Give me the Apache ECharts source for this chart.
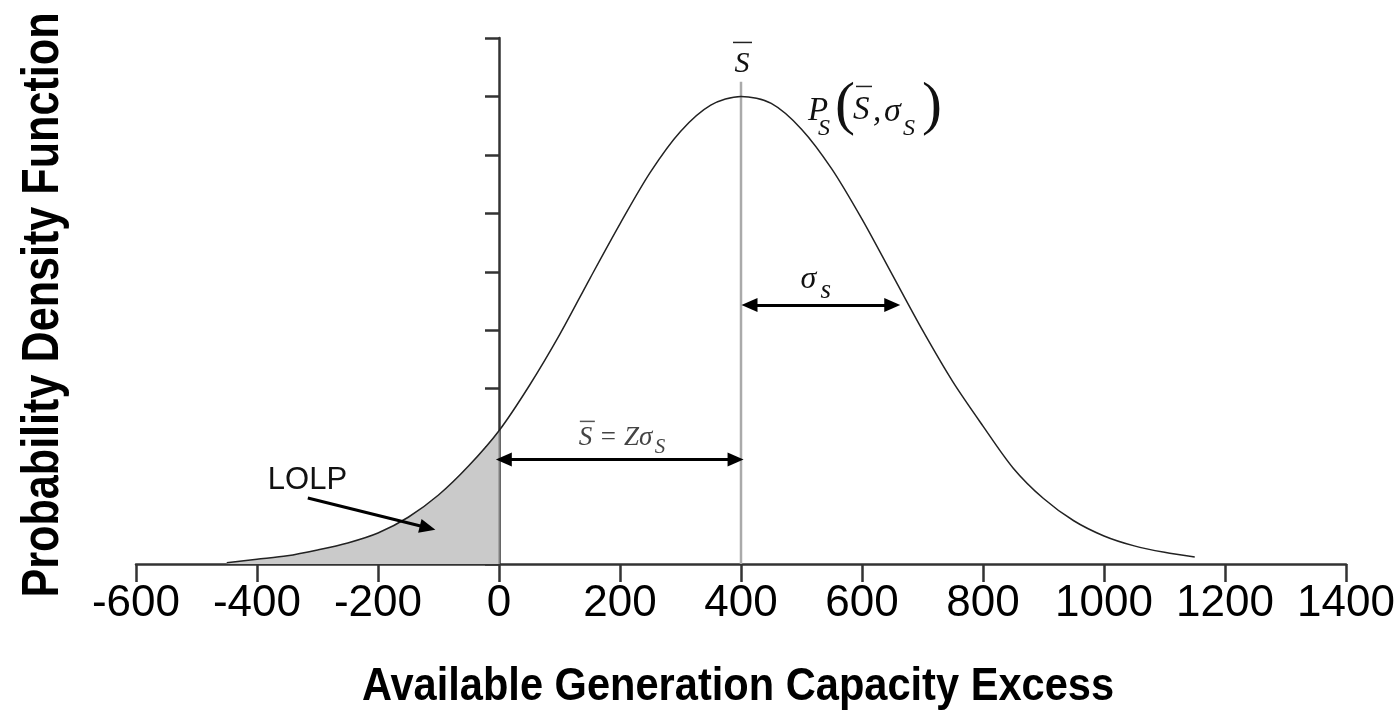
<!DOCTYPE html>
<html>
<head>
<meta charset="utf-8">
<script src="https://cdn.jsdelivr.net/npm/echarts@6/dist/echarts.min.js"></script>
<style>
html,body{margin:0;padding:0;background:#fff;}
#chart{width:1398px;height:715px;}
</style>
</head>
<body>
<div id="chart"></div>
<script>
// curve (x = capacity excess, y = density in tick units)
var capX = [-450,-400,-350,-300,-250,-200,-150,-100,-50,0,50,100,150,200,250,300,350,400,
            450,500,550,600,650,700,750,800,850,900,950,1000,1050,1100,1150];
var pdfY = [0.02,0.08,0.14,0.24,0.36,0.53,0.80,1.18,1.68,2.28,3.05,3.92,4.88,5.82,6.70,7.40,7.85,8.00,
            7.88,7.44,6.76,5.90,4.95,4.00,3.12,2.36,1.64,1.12,0.74,0.48,0.31,0.20,0.12];
var xTicks = [-600,1400,200];   // min, max, step
var meanS = 400;
var meanTop = 8.25;
var sigmaArrow = [414,650,4.43];
var zArrow = [8,391,1.79];
var lolpArrow = [[-316,1.13],[-118,0.62]];

var curve = [], shade = [];
for (var i = 0; i < capX.length; i++) {
    curve.push([capX[i], pdfY[i]]);
    if (capX[i] <= 0) shade.push([capX[i], pdfY[i]]);
}
var edgeY = shade[shade.length - 1][1];

var serif = '"Liberation Serif", "DejaVu Serif", serif';
var sans = '"Liberation Sans", Arial, sans-serif';

var chart = echarts.init(document.getElementById('chart'));
var option = {
    animation: false,
    backgroundColor: '#fff',
    grid: {left: 136, right: 52, top: 38, bottom: 151},
    xAxis: {
        type: 'value',
        min: xTicks[0], max: xTicks[1], interval: xTicks[2],
        axisLine: {lineStyle: {color: '#333', width: 2.5}},
        axisTick: {length: 18, lineStyle: {color: '#333', width: 2.5}},
        axisLabel: {fontSize: 44, color: '#000', fontFamily: sans, margin: 18,
            formatter: function (v) { return String(v); }},
        splitLine: {show: false}
    },
    yAxis: {
        type: 'value',
        min: 0, max: 9, interval: 1,
        axisLine: {onZero: true, lineStyle: {color: '#333', width: 2.5}},
        axisTick: {length: 14, lineStyle: {color: '#333', width: 2.5}},
        axisLabel: {show: false},
        splitLine: {show: false}
    },
    series: [
        {
            // LOLP area
            type: 'line', data: shade, smooth: 0.3, symbol: 'none', z: 2,
            lineStyle: {width: 0},
            areaStyle: {color: '#cacaca', opacity: 1}
        },
        {
            type: 'line', data: [[0, 0], [0, edgeY]], symbol: 'none', z: 3,
            lineStyle: {color: '#999', width: 1.5}
        },
        {
            type: 'line', data: [[meanS, 0], [meanS, meanTop]], symbol: 'none', z: 3,
            lineStyle: {color: '#aaa', width: 2.5},
            markLine: {
                silent: true, symbol: ['triangle', 'triangle'], symbolSize: [14, 16],
                label: {show: false},
                lineStyle: {color: '#000', width: 3, type: 'solid'},
                data: [
                    [{coord: [sigmaArrow[0], sigmaArrow[2]]}, {coord: [sigmaArrow[1], sigmaArrow[2]]}],
                    [{coord: [zArrow[0], zArrow[2]]}, {coord: [zArrow[1], zArrow[2]]}],
                    [{coord: lolpArrow[0], symbol: 'none'}, {coord: lolpArrow[1]}]
                ]
            }
        },
        {
            type: 'line', data: curve, smooth: 0.3, symbol: 'none', z: 4,
            lineStyle: {color: '#222', width: 1.5}
        }
    ]
};
chart.setOption(option);

function px(x, y) { return chart.convertToPixel({gridIndex: 0}, [x, y]); }
function txt(x, y, s, size, opt) {
    opt = opt || {};
    return {
        type: 'text', x: x, y: y, z: 10,
        rotation: opt.rot || 0, scaleX: opt.sx || 1,
        style: {
            text: s, fill: opt.color || '#111',
            font: (opt.style || 'italic') + ' ' + (opt.weight || 'normal') + ' ' + size + 'px ' + (opt.family || serif),
            align: opt.align || 'left', verticalAlign: 'middle'
        }
    };
}
function bar(x1, x2, y, color) {
    return {type: 'line', z: 10, shape: {x1: x1, y1: y, x2: x2, y2: y}, style: {stroke: color || '#222', lineWidth: 1.5}};
}

var pk = px(meanS, 8);           // peak
var sg = px(sigmaArrow[0], sigmaArrow[2]);
var za = px(zArrow[0], zArrow[2]);
var lo = px(lolpArrow[0][0], lolpArrow[0][1]);
var g = [];
// S-bar over the mean line
g.push(txt(pk[0] + 1, pk[1] - 32, 'S', 30, {align: 'center'}));
g.push(bar(pk[0] - 8, pk[0] + 11, pk[1] - 54));
// P_S(S-bar, sigma_S)
var bx = pk[0] + 67, by = pk[1] + 15;
g.push(txt(bx, by, 'P', 33));
g.push(txt(bx + 10, by + 17, 'S', 24));
g.push(txt(bx + 27, by - 4, '(', 60, {style: 'normal'}));
g.push(txt(bx + 45, by - 1, 'S', 33));
g.push(bar(bx + 48, bx + 64, by - 25));
g.push(txt(bx + 65, by + 1, ',', 33));
g.push(txt(bx + 76, by + 1, 'σ', 34));
g.push(txt(bx + 95, by + 17, 'S', 24));
g.push(txt(bx + 114, by - 4, ')', 60, {style: 'normal'}));
// sigma_s above its arrow
g.push(txt(sg[0] + 51, sg[1] - 25, 'σ', 32));
g.push(txt(sg[0] + 71, sg[1] - 14, 's', 27));
// S-bar = Z sigma_S
g.push(txt(za[0] + 75, za[1] - 21, 'S = Zσ', 27, {color: '#444'}));
g.push(bar(za[0] + 76, za[0] + 91, za[1] - 38, '#555'));
g.push(txt(za[0] + 151, za[1] - 12, 'S', 21, {color: '#444'}));
// LOLP
g.push(txt(lo[0] - 40, lo[1] - 18, 'LOLP', 31, {style: 'normal', family: sans}));
// axis titles
g.push(txt(738, 687, 'Available Generation Capacity Excess', 47,
    {style: 'normal', weight: 'bold', family: sans, align: 'center', sx: 0.885, color: '#000'}));
g.push(txt(44, 305, 'Probability Density Function', 52,
    {style: 'normal', weight: 'bold', family: sans, align: 'center', sx: 0.83, rot: Math.PI / 2, color: '#000'}));
chart.setOption({graphic: g});
</script>
</body>
</html>
